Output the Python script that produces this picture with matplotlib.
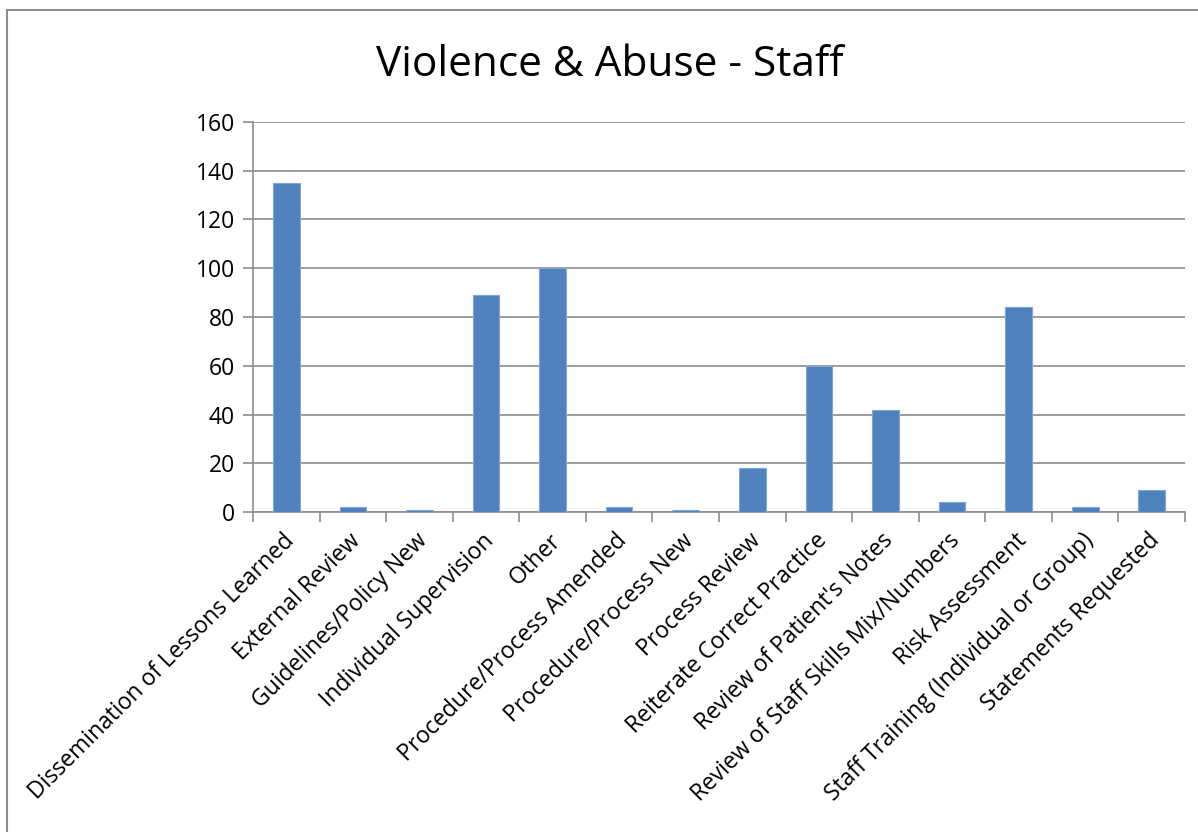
import matplotlib.pyplot as plt
from matplotlib.patches import Rectangle
import numpy as np

# data
kategori = ["Dissemination of Lessons Learned", "External Review", "Guidelines/Policy New",
            "Individual Supervision", "Other", "Procedure/Process Amended",
            "Procedure/Process New", "Process Review", "Reiterate Correct Practice",
            "Review of Patient's Notes", "Review of Staff Skills Mix/Numbers",
            "Risk Assessment", "Staff Training (Individual or Group)", "Statements Requested"]
nilai = [135, 2, 1, 89, 100, 2, 1, 18, 60, 42, 4, 84, 2, 9]
yticks = [0, 20, 40, 60, 80, 100, 120, 140, 160]

plt.rcParams['font.family'] = ['Open Sans', 'DejaVu Sans']

fig = plt.figure(figsize=(11.98, 8.32), dpi=100)
ax = fig.add_axes([0.2112, 0.3846, 0.7780, 0.4688])

x = np.arange(len(kategori))
ax.bar(x, nilai, width=0.4, color='#4f81bd', edgecolor='#7ea6d6', linewidth=0.8, zorder=3)

ax.set_xlim(-0.5, len(kategori) - 0.5)
ax.set_ylim(0, 160)
ax.set_yticks(yticks)
ax.set_yticklabels([str(v) for v in yticks], fontsize=16.5)
ax.yaxis.grid(True, color='#8c8c8c', linewidth=1.2, zorder=0)

# label kategori miring 45 derajat
ax.set_xticks(x - 0.06)
ax.set_xticklabels(kategori, rotation=45, ha='right', rotation_mode='anchor', fontsize=16.5)
ax.tick_params(axis='x', which='major', length=0, pad=12)
ax.set_xticks(np.arange(-0.5, len(kategori), 1), minor=True)
ax.tick_params(axis='x', which='minor', length=7, color='#8c8c8c', width=1.2)
ax.tick_params(axis='y', length=7, color='#8c8c8c', width=1.2, pad=6)

for s in ['top', 'right']:
    ax.spines[s].set_visible(False)
for s in ['left', 'bottom']:
    ax.spines[s].set_color('#8c8c8c')
    ax.spines[s].set_linewidth(1.2)

fig.text(0.509, 0.922, "Violence & Abuse - Staff", ha='center', va='center', fontsize=30.5)

# bingkai luar chart
fig.patches.append(Rectangle((7 / 1198, -0.01), 1.1, 1 - 10 / 832 + 0.01,
                             transform=fig.transFigure, fill=False,
                             edgecolor='#8c8c8c', linewidth=1.5))

fig.savefig("out.png", dpi=100)
